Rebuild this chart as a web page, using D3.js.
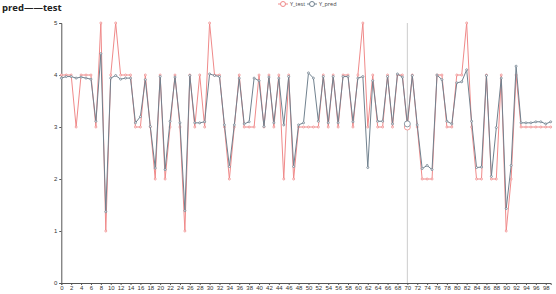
<!DOCTYPE html>
<html>
<head>
<meta charset="utf-8">
<script src="https://cdn.jsdelivr.net/npm/d3@7/dist/d3.min.js"></script>
<style>
  body { margin: 0; background: #fff; }
  svg { display: block; font-family: "Open Sans", "DejaVu Sans", sans-serif; }
</style>
</head>
<body>
<div id="chart"></div>
<script>
// data
const title = "pred——test";
const seriesNames = ["Y_test", "Y_pred"];
const yTest = [4,4,4,3,4,4,4,3,5,1, 4,5,4,4,4,3,3,4,3,2, 4,2,3,4,3,1,4,3,4,3,
  5,4,4,3,2,3,4,3,3,3, 4,3,4,3,4,2,4,2,3,3, 3,3,3,4,3,4,3,4,4,3,
  4,5,3,4,3,3,4,3,4,4, 3,4,3,2,2,2,4,4,3,3, 4,4,5,3,2,2,4,2,2,4,
  1,2,4,3,3,3,3,3,3,3];
const yPred = [3.94,3.97,3.97,3.94,3.96,3.94,3.92,3.11,4.41,1.37,
  3.94,3.99,3.92,3.94,3.94,3.08,3.2,3.91,3.01,2.21,
  3.97,2.18,3.11,3.96,3.08,1.39,3.99,3.08,3.08,3.1,
  4.02,3.99,3.97,3.04,2.24,3.04,3.94,3.06,3.1,3.94,
  3.89,3.01,3.96,3.08,3.94,3.04,3.97,2.24,3.04,3.08,
  4.04,3.94,3.11,3.97,3.08,3.97,3.08,3.97,3.97,3.1,
  3.94,3.97,2.22,3.89,3.11,3.11,3.97,3.06,4.02,3.96,
  3.06,3.99,3.04,2.2,2.26,2.18,4.0,3.91,3.11,3.06,
  3.85,3.87,4.1,3.11,2.22,2.23,3.99,2.05,2.99,3.94,
  1.43,2.26,4.17,3.08,3.08,3.08,3.1,3.1,3.06,3.1];
const categories = d3.range(yTest.length);
const yTicks = [0, 1, 2, 3, 4, 5];
const hoverIndex = 70;

const width = 556, height = 294;
const margin = {top: 23, right: 5, bottom: 11, left: 61};
const colors = {"Y_test": "#f08a8a", "Y_pred": "#71828f"};

const svg = d3.select("#chart").append("svg")
  .attr("width", width)
  .attr("height", height);

const x = d3.scalePoint()
  .domain(categories)
  .range([61.3, 550.7]);

const y = d3.scaleLinear()
  .domain([0, 5])
  .range([height - margin.bottom, margin.top]);

// title
svg.append("text")
  .attr("x", 2)
  .attr("y", 10.5)
  .attr("font-size", 9.5)
  .attr("font-weight", "bold")
  .attr("fill", "#222")
  .text(title);

// legend
const legend = svg.append("g").attr("transform", "translate(278, 4)");
let lx = 0;
seriesNames.forEach(name => {
  const g = legend.append("g").attr("transform", `translate(${lx}, 0)`);
  g.append("line")
    .attr("x1", 0).attr("x2", 10)
    .attr("y1", 0).attr("y2", 0)
    .attr("stroke", colors[name]);
  g.append("circle")
    .attr("cx", 5).attr("cy", 0).attr("r", 2.5)
    .attr("fill", "#fff")
    .attr("stroke", colors[name]);
  g.append("text")
    .attr("x", 12).attr("y", 2)
    .attr("font-size", 5.5)
    .attr("fill", "#444")
    .text(name);
  lx += 29;
});

// axes
const yAxis = svg.append("g")
  .attr("transform", `translate(${x(0)}, 0)`)
  .call(d3.axisLeft(y).tickValues(yTicks).tickFormat(d3.format("d")).tickSize(2).tickPadding(2));

const xAxis = svg.append("g")
  .attr("transform", `translate(0, ${y(0)})`)
  .call(d3.axisBottom(x)
    .tickValues(categories.filter(d => d % 2 === 0))
    .tickSize(2).tickPadding(1));

[yAxis, xAxis].forEach(a => {
  a.select(".domain").attr("stroke", "#555");
  a.selectAll(".tick line").attr("stroke", "#555");
  a.selectAll(".tick text").attr("font-size", 6).attr("fill", "#333");
});

// hover pointer
svg.append("line")
  .attr("x1", x(hoverIndex)).attr("x2", x(hoverIndex))
  .attr("y1", y(5)).attr("y2", y(0))
  .attr("stroke", "#ccc")
  .attr("stroke-width", 1);

const series = [
  {name: "Y_test", values: yTest},
  {name: "Y_pred", values: yPred}
];

const line = d3.line()
  .x((d, i) => x(i))
  .y(d => y(d));

series.forEach(s => {
  svg.append("path")
    .datum(s.values)
    .attr("fill", "none")
    .attr("stroke", colors[s.name])
    .attr("stroke-width", 1)
    .attr("d", line);

  svg.append("g").selectAll("circle")
    .data(s.values)
    .join("circle")
    .attr("cx", (d, i) => x(i))
    .attr("cy", d => y(d))
    .attr("r", (d, i) => i === hoverIndex ? 3 : 1)
    .attr("fill", "#fff")
    .attr("stroke", colors[s.name])
    .attr("stroke-width", 0.8);
});
</script>
</body>
</html>
